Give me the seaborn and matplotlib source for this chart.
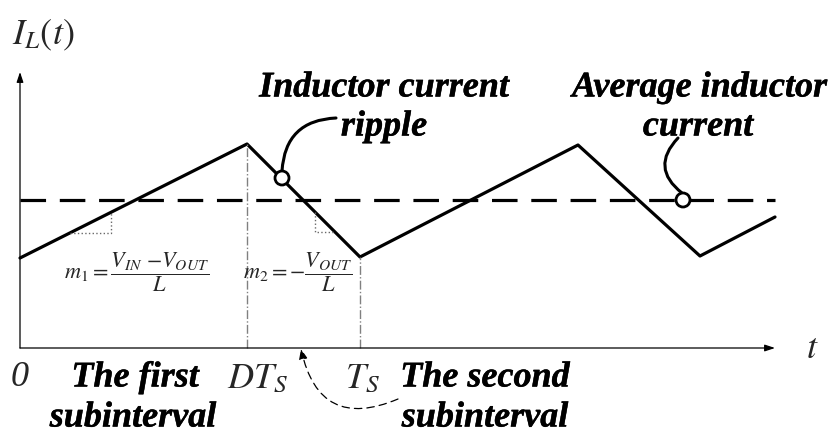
import numpy as np
import matplotlib
matplotlib.use("Agg")
import matplotlib.pyplot as plt
import matplotlib.patheffects as pe
import seaborn as sns
import pandas as pd

# waveform corners (time, inductor current) in drawing units
time = [0, 227, 340, 558, 680, 755]
current = [90, 204, 91, 203, 92, 131]
avg_current = 148
t_end = 755
i_top = 276
dt_s = 227
t_s = 340

sns.set_style("white")
plt.rcParams["mathtext.fontset"] = "stix"
serif = ["Liberation Serif", "DejaVu Serif"]
heavy = [pe.withStroke(linewidth=0.3, foreground="black")]
bold_it = dict(family=serif, style="italic", weight="bold", color="black",
               fontsize=26, va="center", path_effects=heavy)

fig = plt.figure(figsize=(8.39, 4.41), dpi=100)
ax = fig.add_axes([0, 0, 1, 1])
ax.set_xlim(-20, 819)
ax.set_ylim(-93, 348)
ax.axis("off")

wave = pd.DataFrame({"t": time, "i": current})
sns.lineplot(data=wave, x="t", y="i", color="black", lw=2.3, sort=False, ax=ax)
sns.lineplot(x=[0, t_end], y=[avg_current, avg_current], color="black", lw=2.3,
             dashes=False, ax=ax).lines[-1].set_dashes((8, 4.3))

# axes with arrows
arr = dict(arrowstyle="-|>,head_length=0.6,head_width=0.2", color="black", lw=0.9,
           shrinkA=0, shrinkB=0)
ax.annotate("", xy=(t_end, 0), xytext=(0, 0), arrowprops=arr)
ax.annotate("", xy=(0, i_top), xytext=(0, 0), arrowprops=arr)

# DT_S and T_S markers
ax.plot([dt_s, dt_s], [0, current[1]], color="gray", lw=1, ls="-.")
ax.plot([t_s, t_s], [0, current[2]], color="gray", lw=1, ls="-.")

# slope triangles
ax.plot([50, 91, 91], [115, 115, 135], color="dimgray", lw=1, ls=":")
ax.plot([295, 295, 315], [136, 116, 116], color="dimgray", lw=1, ls=":")

# callout circles and leaders
for cx, cy in [(262, 170), (663, 148)]:
    ax.add_patch(plt.Circle((cx, cy), 7, fill=True, fc="white", ec="black", lw=2, zorder=5))
ax.annotate("", xy=(262, 177), xytext=(316, 230),
            arrowprops=dict(arrowstyle="-", color="black", lw=2.2,
                            connectionstyle="arc3,rad=0.45", shrinkA=0, shrinkB=0))
ax.annotate("", xy=(662, 155), xytext=(658, 210),
            arrowprops=dict(arrowstyle="-", color="black", lw=2.2,
                            connectionstyle="arc3,rad=0.55", shrinkA=0, shrinkB=0))

# labels
ax.text(-8, 313, r"$I_L(t)$", fontsize=26, ha="left", va="center")
ax.text(792, 0, r"$t$", fontsize=26, ha="center", va="center")
ax.text(364, 260, "Inductor current", ha="center", **bold_it)
ax.text(364, 221, "ripple", ha="center", **bold_it)
ax.text(552, 260, "Average inductor", ha="left", **bold_it)
ax.text(678, 221, "current", ha="center", **bold_it)

ax.text(117, 76, r"$m_1=\dfrac{V_{IN}\ \mathrm{-}V_{OUT}}{L}$", fontsize=16,
        ha="center", va="center")
ax.text(278, 76, r"$m_2=-\dfrac{V_{OUT}}{L}$", fontsize=16, ha="center", va="center")

ax.text(0, -30, "0", family=serif, style="italic", fontsize=26, ha="center", va="center")
ax.text(115, -30, "The first", ha="center", **bold_it)
ax.text(238, -30, r"$DT_S$", fontsize=26, ha="center", va="center")
ax.text(342, -30, r"$T_S$", fontsize=26, ha="center", va="center")
ax.text(465, -30, "The second", ha="center", **bold_it)
ax.text(113, -70, "subinterval", ha="center", **bold_it)
ax.text(465, -70, "subinterval", ha="center", **bold_it)

ax.annotate("", xy=(281, -1), xytext=(378, -51),
            arrowprops=dict(arrowstyle="-|>,head_length=0.6,head_width=0.25",
                            color="black", lw=0.9, ls=(0, (6, 4)),
                            connectionstyle="arc3,rad=-0.6", shrinkA=0, shrinkB=0))

fig.savefig("out.png", dpi=100)
